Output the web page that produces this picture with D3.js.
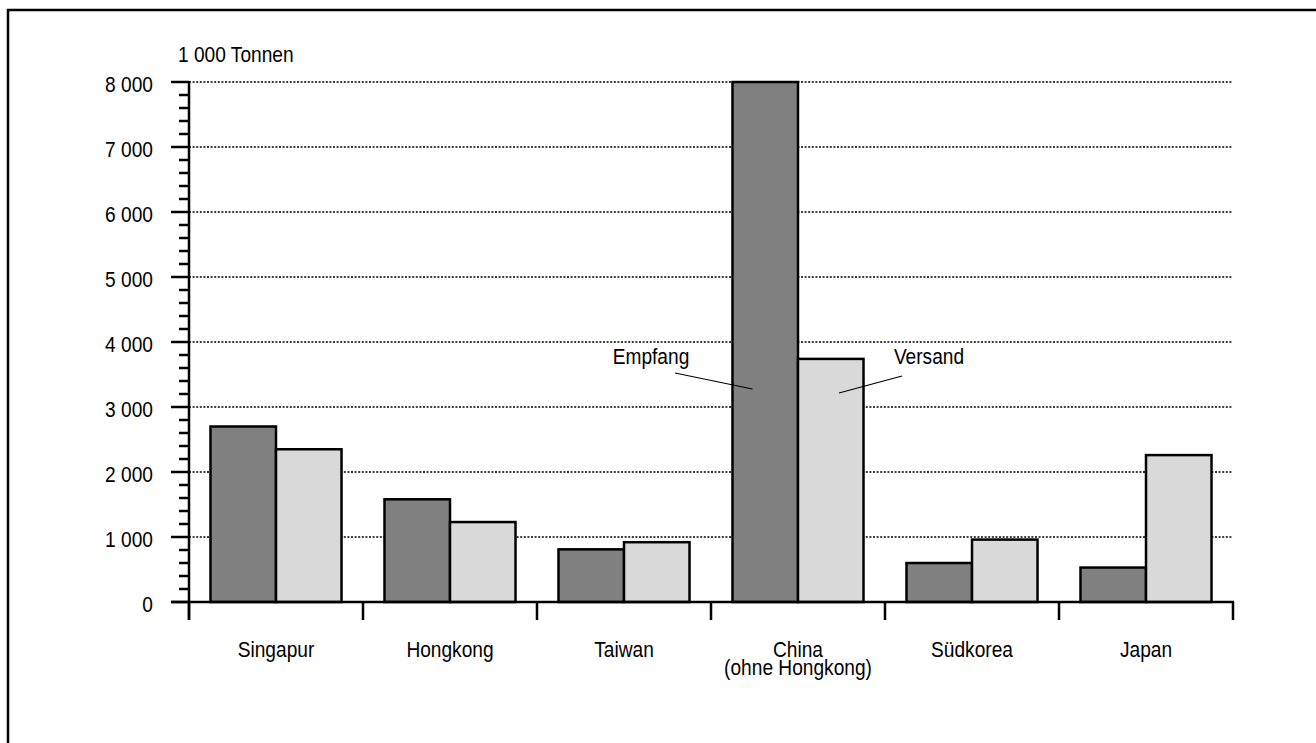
<!DOCTYPE html>
<html>
<head>
<meta charset="utf-8">
<script src="https://cdn.jsdelivr.net/npm/d3@7"></script>
<style>
  html, body { margin: 0; padding: 0; background: #fff; }
  svg { display: block; }
  text { font-family: "Liberation Sans", Arial, sans-serif; fill: #000; }
</style>
</head>
<body>
<svg id="chart" width="1316" height="743"></svg>
<script>
const categories = ["Singapur", "Hongkong", "Taiwan", "China\n(ohne Hongkong)", "Südkorea", "Japan"];
const seriesNames = ["Empfang", "Versand"];
const empfang = [2700, 1580, 810, 8000, 600, 530];
const versand = [2350, 1230, 920, 3740, 960, 2260];
const yTicks = [0, 1000, 2000, 3000, 4000, 5000, 6000, 7000, 8000];
const yTickLabels = ["0", "1 000", "2 000", "3 000", "4 000", "5 000", "6 000", "7 000", "8 000"];
const unitLabel = "1 000 Tonnen";
const colors = ["#808080", "#d9d9d9"];

(function () {
const svg = d3.select("#chart");
const FS = 22, SX = 0.87;

// frame
svg.append("rect").attr("x", 8).attr("y", 10).attr("width", 1330).attr("height", 760)
  .attr("fill", "none").attr("stroke", "#000").attr("stroke-width", 2.5);

const pL = 189, pR = 1233, pT = 82, pB = 602;
const y = d3.scaleLinear().domain([0, 8000]).range([pB, pT]);
const x0 = d3.scaleBand().domain(categories).range([pL, pR]).padding(0);
const x1 = d3.scaleBand().domain(seriesNames).range([0, x0.bandwidth()]).paddingInner(0).paddingOuter(0.328);

function txt(g, x, yy, s, anchor) {
  return g.append("text").attr("transform", `translate(${x},${yy}) scale(${SX},1)`)
    .attr("text-anchor", anchor || "start").attr("font-size", FS).text(s);
}

// gridlines
svg.append("g").selectAll("line").data(yTicks.filter(d => d > 0)).join("line")
  .attr("x1", pL).attr("x2", pR).attr("y1", d => y(d)).attr("y2", d => y(d))
  .attr("stroke", "#000").attr("stroke-width", 1.6).attr("stroke-dasharray", "2,1.6");

// minor ticks
const minor = d3.range(0, 8001, 200).filter(d => d % 1000 !== 0);
svg.append("g").selectAll("line").data(minor).join("line")
  .attr("x1", pL - 10).attr("x2", pL).attr("y1", d => y(d)).attr("y2", d => y(d))
  .attr("stroke", "#000").attr("stroke-width", 2.5);
// major ticks
svg.append("g").selectAll("line").data(yTicks).join("line")
  .attr("x1", pL - 18).attr("x2", pL).attr("y1", d => y(d)).attr("y2", d => y(d))
  .attr("stroke", "#000").attr("stroke-width", 2.5);

// bars
const data = categories.map((c, i) => ({ c, vals: [empfang[i], versand[i]] }));
const groups = svg.append("g").selectAll("g").data(data).join("g")
  .attr("transform", d => `translate(${x0(d.c)},0)`);
groups.selectAll("rect").data(d => d.vals.map((v, j) => ({ s: seriesNames[j], v, j }))).join("rect")
  .attr("x", d => x1(d.s)).attr("width", x1.bandwidth())
  .attr("y", d => y(d.v)).attr("height", d => y(0) - y(d.v))
  .attr("fill", d => colors[d.j]).attr("stroke", "#000").attr("stroke-width", 2.5)
  .attr("stroke-linejoin", "miter");

// y axis line
svg.append("line").attr("x1", pL).attr("x2", pL).attr("y1", pT - 1).attr("y2", pB + 18)
  .attr("stroke", "#000").attr("stroke-width", 2.5);
// x axis line
svg.append("line").attr("x1", pL - 18).attr("x2", pR + 1).attr("y1", pB).attr("y2", pB)
  .attr("stroke", "#000").attr("stroke-width", 2.5);
// category ticks
const bounds = categories.map(c => x0(c)).concat([x0(categories[categories.length - 1]) + x0.bandwidth()]);
svg.append("g").selectAll("line").data(bounds).join("line")
  .attr("x1", d => d).attr("x2", d => d).attr("y1", pB).attr("y2", pB + 18)
  .attr("stroke", "#000").attr("stroke-width", 2.5);

// y tick labels
const yl = svg.append("g");
yTicks.forEach((d, i) => txt(yl, 153, y(d) + 9.5, yTickLabels[i], "end"));
// unit
txt(svg, 178, 62, unitLabel, "start");

// category labels (multi-line labels as one text with tspans)
const xl = svg.append("g");
categories.forEach(c => {
  const cx = x0(c) + x0.bandwidth() / 2;
  const t = xl.append("text").attr("transform", `translate(${cx},657) scale(${SX},1)`)
    .attr("text-anchor", "middle").attr("font-size", FS);
  c.split("\n").forEach((line, k) => t.append("tspan").attr("x", 0).attr("y", k * 18).text(line));
});

// annotations
const ann = svg.append("g");
const chinaX = x0(categories[3]);
txt(ann, 651, 364, seriesNames[0], "middle");
txt(ann, 929, 364, seriesNames[1], "middle");
ann.append("line").attr("x1", 675).attr("y1", 373).attr("x2", chinaX + x1(seriesNames[0]) + 20).attr("y2", 389)
  .attr("stroke", "#000").attr("stroke-width", 1.2);
ann.append("line").attr("x1", 902).attr("y1", 376).attr("x2", chinaX + x1(seriesNames[1]) + 41).attr("y2", 393)
  .attr("stroke", "#000").attr("stroke-width", 1.2);
})();
</script>
</body>
</html>
